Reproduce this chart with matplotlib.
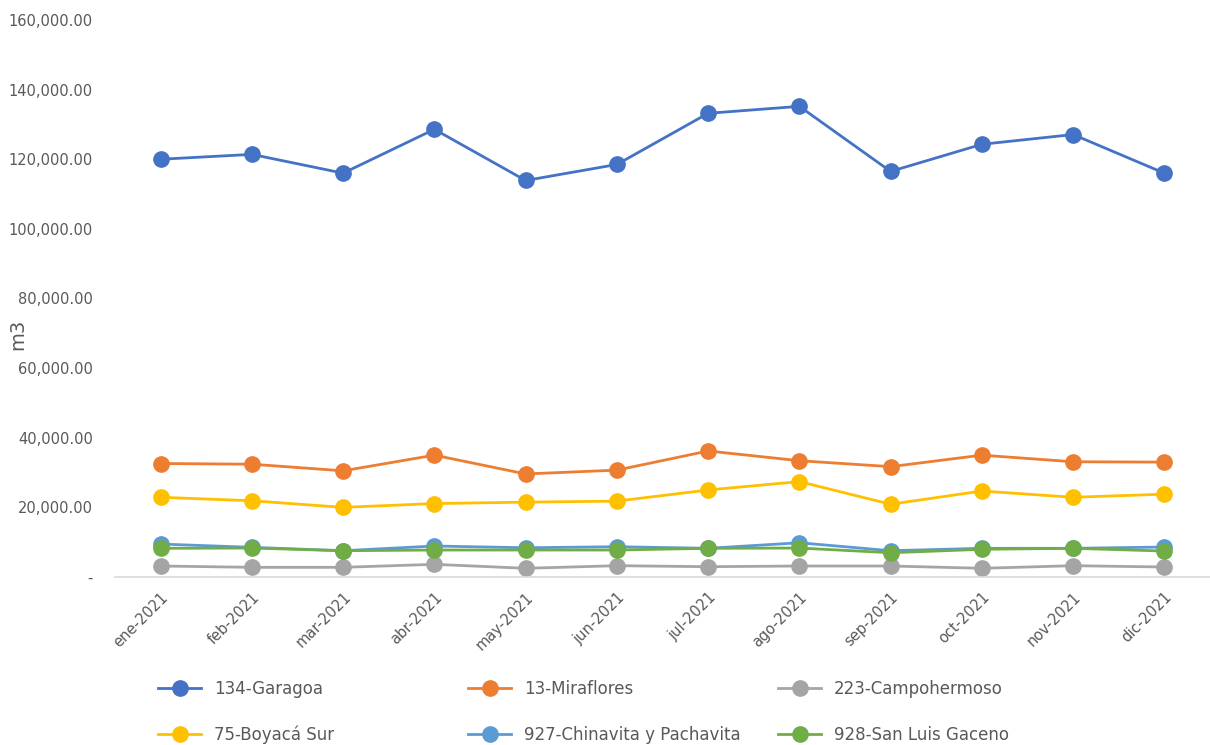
import matplotlib
matplotlib.use("Agg")
import matplotlib.pyplot as plt
from matplotlib.ticker import FuncFormatter, MultipleLocator
from matplotlib.lines import Line2D

months = ["ene-2021", "feb-2021", "mar-2021", "abr-2021", "may-2021", "jun-2021",
          "jul-2021", "ago-2021", "sep-2021", "oct-2021", "nov-2021", "dic-2021"]

garagoa = [120000, 121400, 116000, 128600, 113900, 118500, 133200, 135200, 116500, 124300, 127100, 116000]
miraflores = [32600, 32400, 30500, 35000, 29600, 30700, 36200, 33400, 31700, 35000, 33100, 33000]
campohermoso = [3160, 2780, 2780, 3640, 2500, 3250, 2960, 3160, 3160, 2500, 3250, 2870]
boyaca_sur = [22900, 21900, 20000, 21100, 21500, 21800, 25000, 27400, 20900, 24700, 22900, 23800]
chinavita = [9470, 8520, 7550, 8900, 8400, 8700, 8240, 9840, 7550, 8240, 8240, 8610]
san_luis = [8240, 8320, 7550, 7750, 7750, 7750, 8240, 8320, 6970, 7950, 8240, 7460]

names = ["134-Garagoa", "13-Miraflores", "223-Campohermoso",
         "75-Boyacá Sur", "927-Chinavita y Pachavita", "928-San Luis Gaceno"]
series = [garagoa, miraflores, campohermoso, boyaca_sur, chinavita, san_luis]
colors = ["#4472C4", "#ED7D31", "#A5A5A5", "#FFC000", "#5B9BD5", "#70AD47"]

W, H = 1210, 745
fig = plt.figure(figsize=(W / 100, H / 100), dpi=100)
ax = fig.add_axes([115 / W, 1 - 577 / H, (1210 - 115) / W, (577 - 20) / H])

x = list(range(len(months)))
for vals, c, n in zip(series, colors, names):
    ax.plot(x, vals, color=c, lw=2.0, marker="o", markersize=11, label=n,
            solid_capstyle="round")

ax.set_xlim(-0.5, len(months) - 0.5)
ax.set_ylim(0, 160000)
ax.yaxis.set_major_locator(MultipleLocator(20000))
ax.yaxis.set_major_formatter(FuncFormatter(lambda v, p: "-" if v == 0 else f"{v:,.2f}"))
for s in ["top", "right", "left"]:
    ax.spines[s].set_visible(False)
ax.spines["bottom"].set_color("#D9D9D9")
ax.spines["bottom"].set_linewidth(1.2)
ax.tick_params(axis="y", length=0, pad=16, labelsize=10.5, labelcolor="#595959")
ax.tick_params(axis="x", length=0, pad=9, labelsize=10.5, labelcolor="#595959")
ax.set_xticks(x)
ax.set_xticklabels(months, rotation=45, ha="right", rotation_mode="anchor")
ax.set_ylabel("m3", fontsize=14, color="#595959")
ax.yaxis.set_label_coords(-0.08, 0.435)

# legend: three columns placed at fixed positions
cols = [(0, 3), (1, 4), (2, 5)]
col_x = [158, 468, 778]
for (i, j), cx in zip(cols, col_x):
    handles = [Line2D([0], [0], color=colors[k], lw=2.0, marker="o", markersize=11)
               for k in (i, j)]
    fig.legend(handles, [names[i], names[j]], loc="upper left",
               bbox_to_anchor=(cx / W, 1 - 680 / H), frameon=False,
               fontsize=12, labelcolor="#595959", handlelength=2.6,
               handletextpad=0.75, labelspacing=1.65, borderaxespad=0,
               borderpad=0)

fig.savefig("out.png", dpi=100, facecolor="white")
